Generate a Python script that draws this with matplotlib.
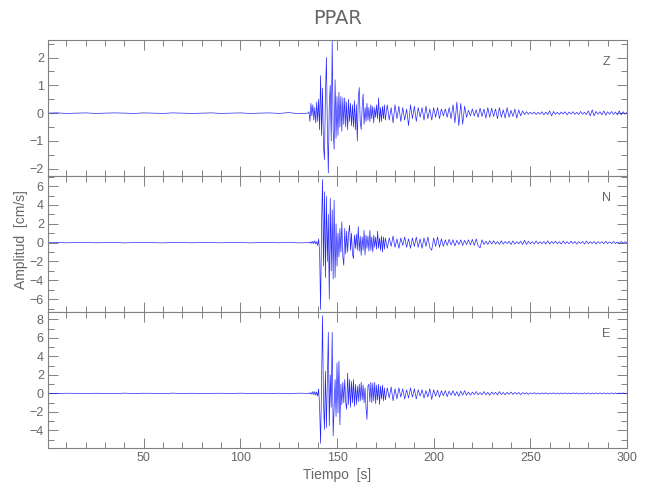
"""
Sismograma de velocidad de la estacion PPAR (componentes Z, N, E).
"""

import numpy as np
import matplotlib
matplotlib.use("Agg")
import matplotlib.pyplot as plt
from matplotlib.ticker import MultipleLocator

plt.rcParams["font.family"] = ["Liberation Sans", "DejaVu Sans"]

STATION = "PPAR"
COMPONENTS = ["Z", "N", "E"]

# muestreo de cada tramo: ruido previo, llegada principal, coda
T_PRE = np.arange(0, 131, 5)
T_MAIN = 135 + 0.5 * np.arange(81)
T_CODA = np.arange(176, 301)

Z_PRE = [0.0, 0.01, -0.01, 0.0, 0.01, -0.01, 0.0, 0.01, 0.0, -0.01,
         0.01, 0.0, -0.01, 0.01, 0.0, -0.01, 0.0, 0.01, -0.01, 0.0,
         0.01, -0.01, 0.0, 0.01, -0.01, 0.02, -0.02]
Z_MAIN = [0.0, 0.05, -0.3, 0.35, -0.1, 0.3, -0.25, 0.2, -0.35, 0.4,
          -0.3, 0.5, -0.6, 1.35, -0.8, 0.9, -1.2, -1.67, 0.6, 2.0,
          -0.5, -2.15, 0.3, 1.0, -1.0, 2.6, -0.6, -1.3, 1.2, -0.9,
          0.6, -0.8, 0.75, -0.5, 0.6, -0.65, 0.55, -0.4, 0.55, -0.5,
          0.4, -0.6, 0.5, -0.3, 0.35, -0.45, 0.3, -0.5, 0.45, -0.6,
          0.3, -1.0, 0.5, 0.92, -0.3, -0.59, 0.2, 0.69, -0.4, 0.2,
          -0.3, 0.35, -0.25, 0.2, -0.3, 0.3, -0.2, 0.25, -0.35, 0.2,
          -0.15, 0.3, -0.2, 0.55, -0.34, 0.2, -0.3, 0.25, -0.2, 0.3,
          -0.25]
Z_CODA = [0.3, -0.25, 0.2, -0.35, 0.3, -0.2, 0.25, -0.3, 0.2, -0.25,
          0.15, -0.45, 0.3, -0.2, 0.25, -0.3, 0.2, -0.15, 0.2, -0.25,
          0.25, -0.2, 0.15, -0.25, 0.2, -0.15, 0.2, -0.2, 0.15, -0.1,
          0.15, -0.15, 0.2, -0.2, 0.3, -0.35, 0.4, -0.45, 0.35, -0.4,
          0.25, -0.15, 0.1, -0.1, 0.15, -0.1, 0.12, -0.15, 0.18, -0.12,
          0.15, -0.18, 0.2, -0.15, 0.18, -0.12, 0.15, -0.2, 0.2, -0.15,
          0.12, -0.18, 0.2, -0.15, 0.1, -0.12, 0.15, -0.18, 0.12, -0.1,
          0.08, -0.05, 0.05, -0.04, 0.03, -0.03, 0.04, -0.05, 0.03, -0.04,
          0.05, -0.06, 0.04, -0.05, 0.08, -0.1, 0.06, -0.04, 0.03, -0.05,
          0.04, -0.03, 0.05, -0.06, 0.04, -0.03, 0.05, -0.04, 0.03, -0.05,
          0.06, -0.04, 0.03, -0.05, 0.08, -0.1, 0.12, -0.1, 0.06, -0.04,
          0.05, -0.06, 0.08, -0.07, 0.05, -0.04, 0.06, -0.05, 0.04, -0.06,
          0.08, -0.06, 0.05, -0.04, 0.03]

N_PRE = [0.0, 0.02, -0.02, 0.01, 0.03, -0.02, 0.0, 0.02, -0.03, 0.01,
         0.02, -0.01, -0.03, 0.02, 0.01, -0.02, 0.03, 0.0, -0.02, 0.02,
         0.03, -0.03, 0.01, 0.03, -0.02, 0.04, -0.03]
N_MAIN = [0.0, 0.05, -0.05, 0.1, -0.1, 0.15, -0.1, 0.2, -0.15, 0.1,
          -0.3, 0.4, -1.0, -7.1, 2.0, 6.7, -2.5, 5.4, -3.7, 4.9,
          -2.0, 3.0, -6.0, 4.7, -3.0, 3.5, -3.85, 4.5, -3.7, 2.0,
          -2.5, 1.0, -1.5, 1.5, -1.0, 2.2, -1.5, -2.4, 1.5, -1.2,
          1.2, -1.0, 1.0, 1.85, -0.8, 1.0, -1.2, -1.7, 0.8, -0.6,
          0.9, -0.8, 1.7, -0.9, 0.7, -1.35, 0.6, -0.8, 1.3, -1.3,
          0.8, -0.6, 0.7, -0.9, 1.3, -0.8, 0.6, -1.0, 0.8, -0.5,
          0.6, -0.7, 1.2, -0.6, 0.5, -0.8, 0.7, -1.0, 0.6, -0.7,
          0.5]
N_CODA = [-0.6, 0.5, -0.4, 0.7, -0.5, 0.4, -0.6, 0.5, -0.3, 0.6,
          -0.5, 0.4, -0.6, 0.5, -0.4, 0.6, -0.5, 0.4, -0.6, 0.5,
          -0.4, 0.6, -0.5, -0.8, 0.5, -0.4, 0.6, -0.5, 0.4, -0.4,
          0.3, -0.3, 0.35, -0.25, 0.3, -0.35, 0.25, -0.2, 0.3, -0.3,
          0.25, -0.2, 0.3, -0.25, 0.35, -0.3, 0.4, -0.35, -0.55, 0.3,
          -0.2, 0.15, -0.2, 0.2, -0.15, 0.2, -0.15, 0.12, -0.18, 0.2,
          -0.15, 0.12, -0.1, 0.15, -0.2, 0.18, -0.15, 0.1, -0.12, 0.15,
          -0.2, 0.25, -0.2, 0.15, -0.12, 0.1, -0.15, 0.18, -0.12, 0.1,
          -0.1, 0.12, -0.15, 0.2, -0.15, 0.12, -0.1, 0.15, -0.12, 0.1,
          -0.15, 0.18, -0.12, 0.1, -0.12, 0.15, -0.1, 0.12, -0.15, 0.1,
          -0.08, 0.12, -0.15, 0.18, -0.12, 0.1, -0.1, 0.12, -0.15, 0.1,
          -0.08, 0.1, -0.12, 0.15, -0.1, 0.08, -0.1, 0.12, -0.1, 0.08,
          -0.1, 0.12, -0.08, 0.1, -0.05]

E_PRE = [0.0, -0.02, 0.02, 0.01, -0.03, 0.02, 0.0, -0.02, 0.03, -0.01,
         0.02, 0.01, -0.02, 0.03, -0.01, 0.02, -0.03, 0.01, 0.02, -0.02,
         0.03, -0.01, 0.02, -0.03, 0.02, -0.04, 0.03]
E_MAIN = [0.0, 0.05, -0.05, 0.1, -0.1, 0.2, -0.15, 0.2, -0.2, 0.15,
          -0.3, 0.5, -1.5, -5.4, 1.0, 8.4, -1.0, -3.9, 2.4, -3.7,
          1.5, 6.6, -3.5, 2.0, -1.5, 6.6, -4.6, -1.7, 1.5, -2.5,
          3.3, -2.1, 3.5, -3.4, 1.0, -1.2, 1.2, -1.0, 1.5, -1.0,
          -1.7, 2.2, -1.2, 1.5, -1.5, 1.3, -1.0, 1.5, -1.4, 1.0,
          -1.2, 0.8, -0.9, 1.0, -0.8, 1.2, -0.7, 0.9, -1.0, 0.6,
          -1.5, -2.8, 0.8, 1.0, -0.9, 1.2, -1.0, 1.1, -0.8, 1.2,
          -1.1, 0.9, -0.7, 1.0, -1.2, 0.8, -0.6, 0.9, -0.8, 0.6,
          -0.7]
E_CODA = [0.6, -0.5, 0.7, -0.8, 0.5, -0.6, 0.6, -0.4, 0.5, -0.6,
          0.4, -0.5, 0.6, -0.4, 0.5, -0.6, 0.4, -0.3, 0.4, -0.5,
          0.3, -0.4, 0.5, -0.65, 0.4, -0.3, 0.35, -0.4, 0.3, -0.25,
          0.3, -0.35, 0.25, -0.2, 0.3, -0.25, 0.2, -0.3, 0.25, -0.2,
          0.3, -0.2, 0.15, -0.2, 0.15, -0.12, 0.2, -0.15, 0.1, -0.15,
          0.2, -0.15, 0.12, -0.2, 0.15, -0.1, 0.12, -0.15, 0.2, -0.12,
          0.1, -0.15, 0.12, -0.1, 0.15, -0.12, 0.1, -0.08, 0.1, -0.12,
          0.08, -0.06, 0.08, -0.1, 0.06, -0.05, 0.08, -0.06, 0.05, -0.08,
          0.06, -0.05, 0.07, -0.08, 0.05, -0.04, 0.06, -0.05, 0.04, -0.06,
          0.05, -0.04, 0.06, -0.05, 0.04, -0.05, 0.06, -0.04, 0.05, -0.06,
          0.04, -0.05, 0.06, -0.04, 0.05, -0.06, 0.04, -0.05, 0.06, -0.04,
          0.05, -0.04, 0.06, -0.05, 0.04, -0.05, 0.06, -0.04, 0.05, -0.06,
          0.05, -0.04, 0.06, -0.05, 0.04]

TRACES = {
    "Z": (Z_PRE, Z_MAIN, Z_CODA),
    "N": (N_PRE, N_MAIN, N_CODA),
    "E": (E_PRE, E_MAIN, E_CODA),
}

# limites y ticks de cada panel
YLIMS = {"Z": (-2.26, 2.63), "N": (-7.36, 7.07), "E": (-5.9, 8.8)}
YMAJOR = {"Z": 1, "N": 2, "E": 2}
YMINOR = {"Z": 0.5, "N": 1, "E": 1}

GRAY = "#808080"
TEXT = "#666666"


def style_axis(ax):
    for s in ax.spines.values():
        s.set_color(GRAY)
        s.set_linewidth(0.8)
    ax.tick_params(which="both", direction="in", top=True, right=True,
                   color=GRAY, labelcolor=TEXT, labelsize=9, pad=3)
    ax.tick_params(which="major", length=7, width=0.7)
    ax.tick_params(which="minor", length=4, width=0.7)
    ax.xaxis.set_major_locator(MultipleLocator(50))
    ax.xaxis.set_minor_locator(MultipleLocator(10))


fig = plt.figure(figsize=(6.5, 5), dpi=100)
fig.patch.set_facecolor("white")
left, right, top, bottom = 48 / 650, 627 / 650, 1 - 40 / 500, 1 - 448 / 500
h = (top - bottom) / 3

axes = []
for i, comp in enumerate(COMPONENTS):
    ax = fig.add_axes([left, top - (i + 1) * h, right - left, h])
    pre, main, coda = TRACES[comp]
    t = np.concatenate([T_PRE, T_MAIN, T_CODA])
    v = np.concatenate([pre, main, coda])
    ax.plot(t, v, color="#0000ff", lw=0.5, alpha=0.85)
    ax.set_xlim(0.5, 300)
    ax.set_ylim(*YLIMS[comp])
    style_axis(ax)
    ax.yaxis.set_major_locator(MultipleLocator(YMAJOR[comp]))
    ax.yaxis.set_minor_locator(MultipleLocator(YMINOR[comp]))
    ax.text(0.964, 0.84, comp, transform=ax.transAxes, ha="center",
            va="center", color=TEXT, fontsize=9)
    if i < 2:
        ax.tick_params(labelbottom=False)
    axes.append(ax)

fig.text((left + right) / 2, 1 - 18 / 500, STATION, ha="center",
         va="center", color=TEXT, fontsize=14, family="DejaVu Sans")
axes[2].set_xlabel("Tiempo  [s]", color=TEXT, fontsize=10, labelpad=3)
fig.text(21 / 650, 1 - 240 / 500, "Amplitud  [cm/s]", rotation=90,
         ha="center", va="center", color=TEXT, fontsize=10)

fig.savefig("out.png", dpi=100, facecolor="white")
